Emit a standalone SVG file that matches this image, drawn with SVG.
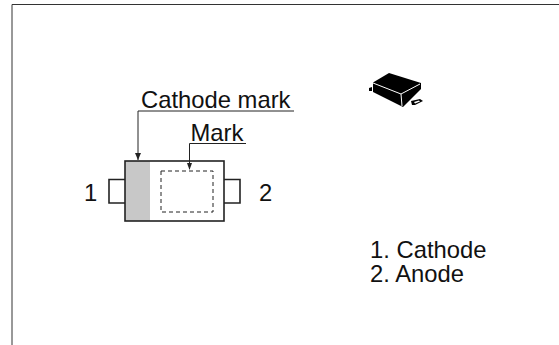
<svg xmlns="http://www.w3.org/2000/svg" width="559" height="345" viewBox="0 0 559 345">
<style>
.t{font-family:"Liberation Sans",Arial,sans-serif;font-size:23.8px;fill:#111}
.l{fill:none;stroke:#222;stroke-width:1}
.b{fill:none;stroke:#222;stroke-width:1.6}
</style>
<rect width="559" height="345" fill="#fff"/>
<g id="frame"><path d="M12 345V4.500H559" fill="none" stroke="#333" stroke-width="1"/></g>
<g id="package">
<rect x="125" y="161" width="25" height="60" fill="#c8c8c8"/>
<rect x="125" y="161" width="99" height="60" class="b"/>
<path d="M125 179.500H109V203H125M224 179.500H240V203H224" class="b"/>
<rect x="161" y="171" width="52" height="41" fill="none" stroke="#222" stroke-dasharray="4 3"/>
<text class="t" x="84" y="201">1</text>
<text class="t" x="259" y="201">2</text>
</g>
<g id="connectors">
<path d="M294 111H138V160" class="l"/><path d="M135 153H141L138 160Z" fill="#222"/>
<path d="M246 143.500H189.500V169" class="l"/><path d="M187 163H192L189.500 170Z" fill="#222"/>
</g>
<g id="cathode-label"><text class="t" x="141" y="108">Cathode mark</text></g>
<g id="mark-label"><text class="t" x="190.500" y="141">Mark</text></g>
<g id="device">
<path d="M369 88L372 87V91L369 91Z" fill="#000"/>
<path d="M373 82.500L389 73L421 83V89L403 107L373 92Z" fill="#000"/>
<path d="M373 83L401 94L420 84M401 94L402 106" fill="none" stroke="#fff" stroke-width="1"/>
<path d="M411 101L420 99L423 101L415 105H412Z" fill="#000"/>
<path d="M414 102L419 100.500L420 101.500L415 103.500Z" fill="#fff"/>
</g>
<g id="legend">
<text class="t" x="370"><tspan x="370" y="257.500">1. Cathode</tspan><tspan x="370" y="282">2. Anode</tspan></text>
</g>
</svg>
